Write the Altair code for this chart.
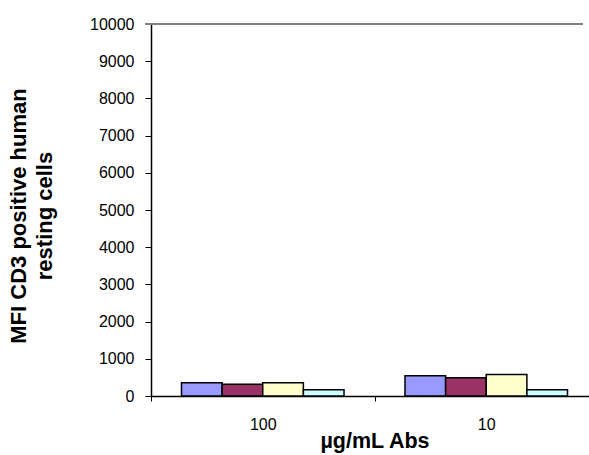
import altair as alt
import pandas as pd

# Data
concentrations = ["100", "10"]
series = ["Ab 1", "Ab 2", "Ab 3", "Ab 4"]
ab1 = [356, 543]
ab2 = [313, 490]
ab3 = [356, 580]
ab4 = [170, 170]
colors = ["#9999FF", "#993366", "#FFFFCC", "#CCFFFF"]
y_ticks = [0, 1000, 2000, 3000, 4000, 5000, 6000, 7000, 8000, 9000, 10000]
y_top = [10000]

rows = []
for name, vals in zip(series, [ab1, ab2, ab3, ab4]):
    for c, v in zip(concentrations, vals):
        rows.append({"conc": c, "series": name, "value": v})
df = pd.DataFrame(rows)

font = "Liberation Sans"

y_enc = alt.Y(
    "value:Q",
    scale=alt.Scale(domain=[0, 10000], nice=False, zero=True),
    axis=alt.Axis(
        values=y_ticks,
        tickCount=11,
        format="d",
        labelOverlap=False,
        title=["MFI CD3 positive human", "resting cells"],
        labelFontSize=16,
        labelPadding=11,
        tickSize=6,
        domainWidth=1.5,
        titleFontSize=22,
        titleFontWeight="bold",
        titleAngle=270,
        titleX=-133,
        titleY=191.5,
        titleAlign="center",
        titleBaseline="middle",
        titleLineHeight=26,
    ),
)

bars = alt.Chart(df).mark_bar(stroke="black", strokeWidth=1.5).encode(
    x=alt.X(
        "conc:N",
        sort=concentrations,
        scale=alt.Scale(domain=concentrations, range=[0, 447], paddingInner=0, paddingOuter=0),
        axis=alt.Axis(
            title="µg/mL Abs",
            tickBand="extent",
            labelAngle=0,
            labelFontSize=16,
            labelPadding=15,
            tickSize=5,
            domainWidth=1.5,
            titleFontSize=21.5,
            titleFontWeight="bold",
            titleX=223.5,
            titleY=34,
            titleAlign="center",
            titleBaseline="top",
        ),
    ),
    xOffset=alt.XOffset(
        "series:N",
        sort=series,
        scale=alt.Scale(domain=series, paddingInner=0, paddingOuter=0.75),
    ),
    y=y_enc,
    color=alt.Color("series:N", scale=alt.Scale(domain=series, range=colors), legend=None),
)

top_line = alt.Chart(pd.DataFrame({"value": y_top})).mark_rule(
    color="#808080", strokeWidth=2
).encode(y=y_enc, x=alt.value(-6), x2=alt.value(432))

chart = (
    alt.layer(bars, top_line)
    .properties(
        width=438,
        height=372,
        autosize=alt.AutoSizeParams(type="none"),
        padding={"left": 151, "top": 24, "right": 0, "bottom": 59},
        background="white",
    )
    .configure_view(strokeWidth=0)
    .configure_axis(
        grid=False,
        domainColor="black",
        tickColor="black",
        labelColor="black",
        titleColor="black",
        labelFont=font,
        titleFont=font,
    )
)

chart.save("out.html", embed_options={"renderer": "svg", "actions": False})
